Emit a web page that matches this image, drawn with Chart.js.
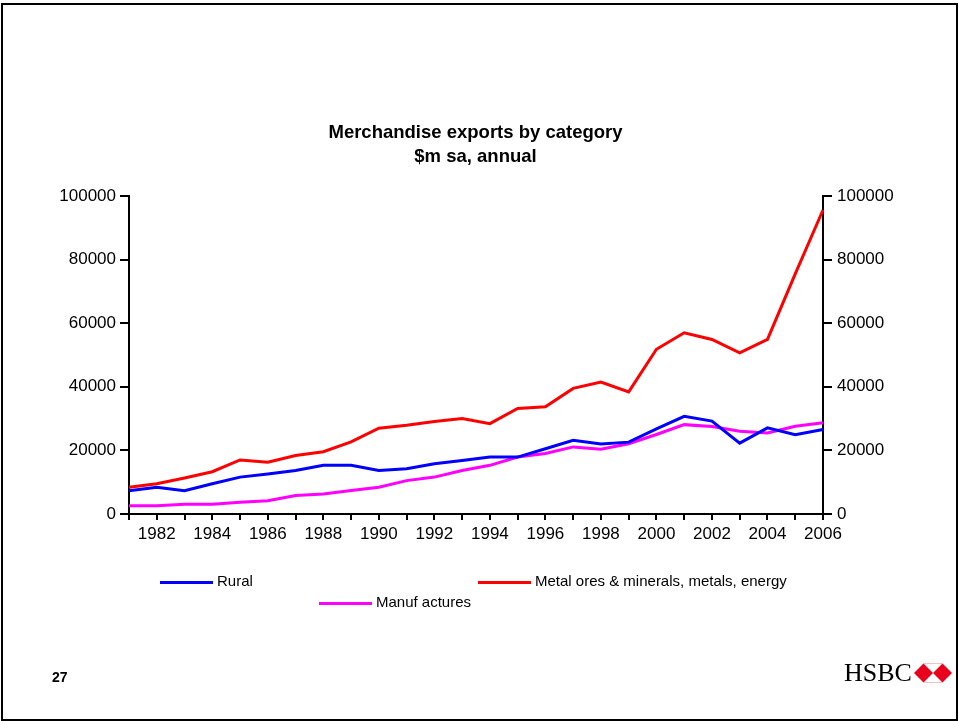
<!DOCTYPE html>
<html>
<head>
<meta charset="utf-8">
<script src="https://cdn.jsdelivr.net/npm/chart.js@4.4.1/dist/chart.umd.min.js"></script>
<style>
  body{margin:0;background:#fff;font-family:"Liberation Sans",Arial,sans-serif;}
  #frame{position:absolute;left:1px;top:3px;width:957px;height:718px;border:2px solid #000;box-sizing:border-box;}
  #c{position:absolute;left:0;top:0;}
  .title{position:absolute;left:0;width:951px;text-align:center;font-weight:bold;font-size:18.5px;color:#000;}
  .leg{position:absolute;font-size:15px;color:#000;white-space:nowrap;}
  .leg span.ln{display:inline-block;width:53px;height:3px;vertical-align:middle;margin-right:4px;}
  #page{position:absolute;left:52px;top:669px;font-weight:bold;font-size:14px;}
  #logo{position:absolute;left:844px;top:658px;font-family:"Liberation Serif","Times New Roman",serif;font-size:26px;color:#000;}
  #hex{position:absolute;left:914px;top:662px;}
</style>
</head>
<body>
<div id="frame"></div>
<canvas id="c" width="959" height="721"></canvas>
<div class="title" style="top:121px">Merchandise exports by category</div>
<div class="title" style="top:145px">$m sa, annual</div>
<div id="legend"></div>
<div id="page">27</div>
<div id="logo">HSBC</div>
<svg id="hex" width="38" height="22" viewBox="0 0 40 22">
  <polygon points="0,11 10,1 30,1 40,11 30,21 10,21" fill="#e8001c"/>
  <polygon points="10,1 30,1 20,11" fill="#fff"/>
  <polygon points="10,21 30,21 20,11" fill="#fff"/>
</svg>
<script>
// annual, $m sa
let years = [1981,1982,1983,1984,1985,1986,1987,1988,1989,1990,1991,1992,1993,
             1994,1995,1996,1997,1998,1999,2000,2001,2002,2003,2004,2005,2006];
let rural  = [7300,8400,7300,9500,11600,12600,13700,15300,15300,13700,14200,15800,16800,
              17900,17900,20500,23200,22000,22600,26800,30700,29200,22300,27100,24900,26600];
let metals = [8400,9500,11300,13300,17000,16300,18400,19600,22700,27000,27900,29100,30000,
              28400,33200,33700,39500,41500,38400,51800,57000,54900,50700,54900,75500,95600];
let manuf  = [2600,2600,3100,3100,3700,4200,5800,6300,7400,8400,10500,11600,13700,
              15300,17900,19000,21100,20400,22100,25000,28100,27500,26000,25500,27600,28700];
let yTicks = [0,20000,40000,60000,80000,100000];

let font = {family:"'Liberation Sans', Arial, sans-serif", size:17};

let datasets = [
  {label:"Rural", data:rural, borderColor:"#0000ff"},
  {label:"Metal ores & minerals, metals, energy", data:metals, borderColor:"#ff0000"},
  {label:"Manuf actures", data:manuf, borderColor:"#ff00ff"}
].map(d=>Object.assign(d,{borderWidth:3,pointRadius:0,tension:0,fill:false}));

function yAxis(pos, w, pad){
  return {
    position:pos, min:yTicks[0], max:yTicks[yTicks.length-1],
    afterBuildTicks: s=>{ s.ticks = yTicks.map(v=>({value:v})); },
    afterFit: s=>{ s.width = w; },
    grid:{drawOnChartArea:false, drawTicks:true, tickLength:9, color:"#000", lineWidth:2},
    border:{display:true, color:"#000", width:2},
    ticks:{color:"#000", font:font, padding:pad, callback:v=>String(v)}
  };
}

new Chart(document.getElementById("c"),{
  type:"line",
  data:{labels:years.map(String), datasets:datasets},
  options:{
    responsive:false, animation:false, devicePixelRatio:1,
    layout:{padding:{top:196,bottom:167,left:0,right:0}},
    plugins:{legend:{display:false}, title:{display:false}, tooltip:{enabled:false}},
    scales:{
      x:{
        offset:false,
        afterFit: s=>{ s.height = 40; },
        grid:{offset:false, drawOnChartArea:false, drawTicks:true, tickLength:6, color:"#000", lineWidth:2},
        border:{display:true, color:"#000", width:2},
        ticks:{color:"#000", font:font, padding:4, autoSkip:false, maxRotation:0,
               callback:(v,i)=> years[i]%2===0 ? String(years[i]) : ""}
      },
      y:yAxis("left",129,4),
      y2:yAxis("right",136,5)
    }
  }
});

// legend laid out like the original
let legPos = [[160,572],[478,572],[319,593]];
let leg = document.getElementById("legend");
datasets.forEach((d,i)=>{
  let el = document.createElement("div");
  el.className = "leg";
  el.style.left = legPos[i][0]+"px";
  el.style.top = legPos[i][1]+"px";
  el.innerHTML = `<span class="ln" style="background:${d.borderColor}"></span>${d.label}`;
  leg.appendChild(el);
});
</script>
</body>
</html>
